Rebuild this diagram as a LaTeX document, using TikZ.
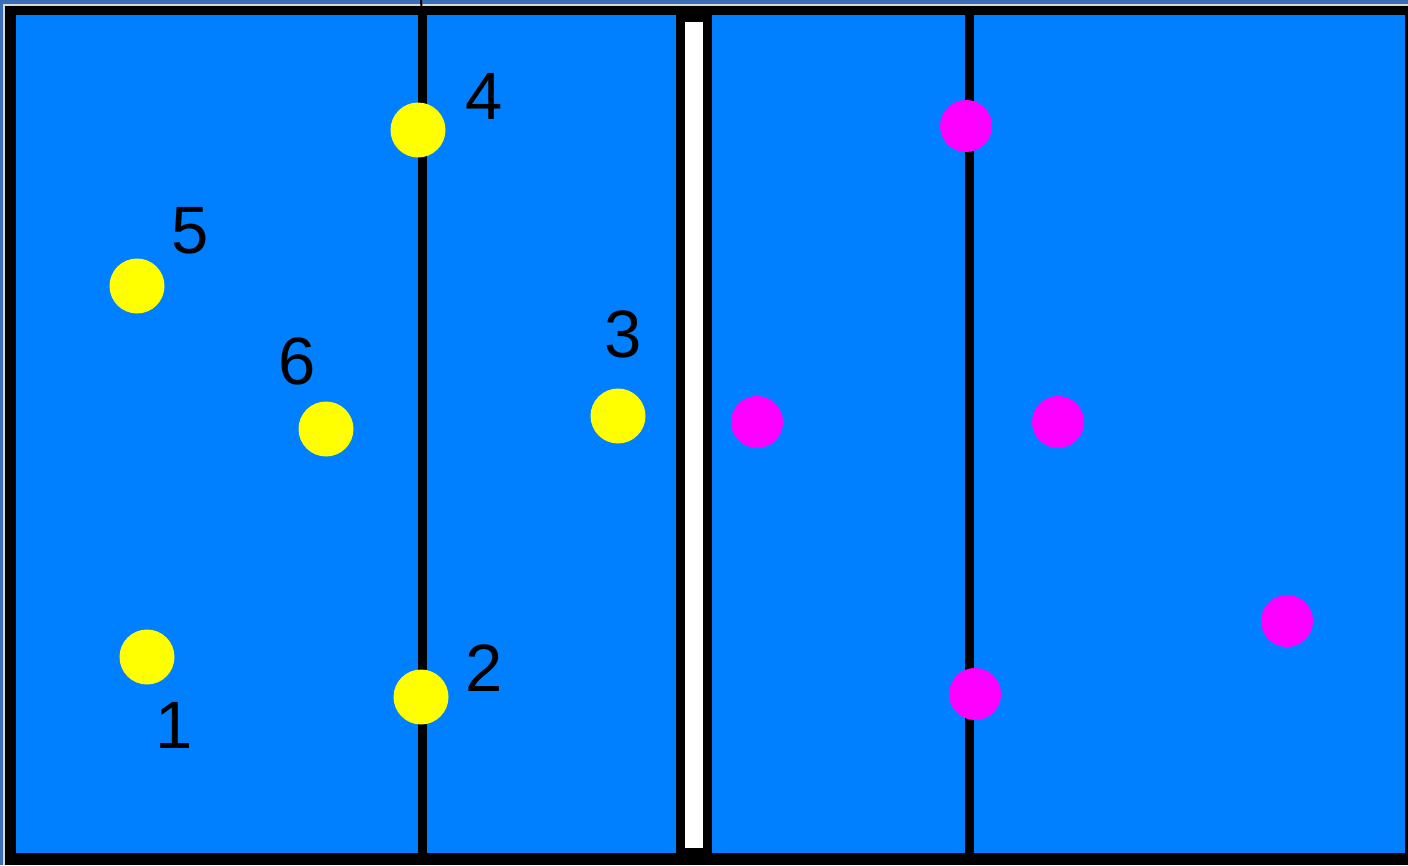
\documentclass[tikz,border=0pt]{standalone}
\usepackage{fontspec}
\setmainfont{Liberation Sans}
\definecolor{slate}{HTML}{3A6EB6}
\definecolor{court}{HTML}{0080FF}
\definecolor{edge}{HTML}{D8D8D8}
\definecolor{yel}{HTML}{FFFF00}
\definecolor{mag}{HTML}{FF00FF}
\tikzset{
  ydot/.style={circle,fill=yel,minimum size=55pt,inner sep=0pt},
  mdot/.style={circle,fill=mag,minimum size=52pt,inner sep=0pt},
  num/.style={anchor=base,inner sep=0pt,text=black,font=\fontsize{67}{67}\selectfont},
  attack/.style={line width=9pt,draw=black}
}
\begin{document}
\begin{tikzpicture}[x=1pt,y=-1pt]
\useasboundingbox (0,0) rectangle (1408,865);
% frame
\fill[slate] (0,0) rectangle (1408,865);
\fill[edge] (3,4) rectangle (1408,865);
\fill[black] (5,6) rectangle (1408,865);
\fill[court] (16,15) rectangle (1405,853);
% net
\fill[black] (676,15) rectangle (712,853);
\fill[white] (685,22) rectangle (703,848);
% attack lines
\coordinate (la) at (422,15);
\coordinate (lb) at (422,853);
\coordinate (lt) at (421,0);
\coordinate (ra) at (969,15);
\coordinate (rb) at (969,853);
\draw[attack] (la) -- (lb);
\draw[black,line width=2pt] (lt) -- (la);
\draw[attack] (ra) -- (rb);
% yellow team
\node[ydot] (y4) at (418,130) {};
\node[ydot] (y5) at (137,286) {};
\node[ydot] (y6) at (326,429) {};
\node[ydot] (y3) at (618,416) {};
\node[ydot] (y1) at (147,657) {};
\node[ydot] (y2) at (421,697) {};
% labels
\node[num] (n4) at (484,119) {4};
\node[num] (n5) at (190,253) {5};
\node[num] (n6) at (297,384) {6};
\node[num] (n3) at (623,357) {3};
\node[num] (n1) at (174,748) {1};
\node[num] (n2) at (484,691) {2};
% magenta team
\node[mdot] (m1) at (966,126) {};
\node[mdot] (m2) at (757,422) {};
\node[mdot] (m3) at (1058,422) {};
\node[mdot] (m4) at (1287,621) {};
\node[mdot] (m5) at (975,694) {};
\end{tikzpicture}
\end{document}
